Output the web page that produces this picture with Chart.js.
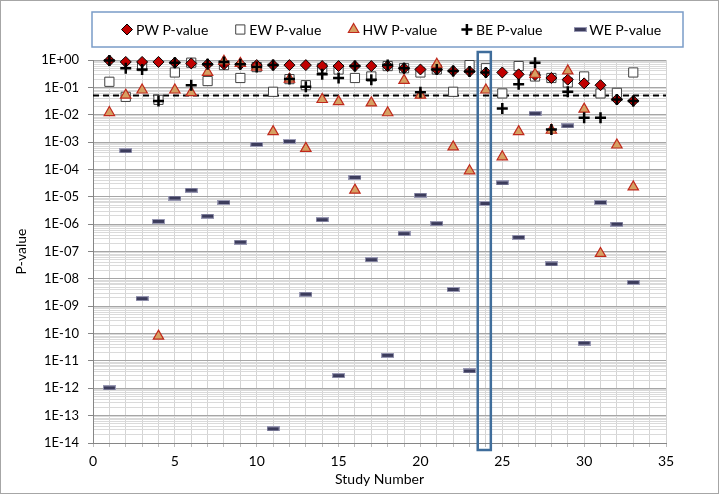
<!DOCTYPE html>
<html>
<head>
<meta charset="utf-8">
<script src="https://cdn.jsdelivr.net/npm/chart.js@4/dist/chart.umd.js"></script>
<style>
  body { margin: 0; background: #fff; }
  #chart { display: block; }
</style>
</head>
<body>
<canvas id="chart" width="720" height="496"></canvas>
<script>
// study numbers (x axis)
const studies = [1, 2, 3, 4, 5, 6, 7, 8, 9, 10, 11, 12, 13, 14, 15, 16, 17,
                 18, 19, 20, 21, 22, 23, 24, 25, 26, 27, 28, 29, 30, 31, 32, 33];

// p-values per study
const pwValues = [0.95, 0.85, 0.85, 0.85, 0.8, 0.75, 0.7, 0.7, 0.7, 0.65, 0.65, 0.65, 0.65,
                  0.6, 0.6, 0.6, 0.6, 0.6, 0.5, 0.45, 0.45, 0.4, 0.38, 0.35, 0.35, 0.3,
                  0.28, 0.22, 0.19, 0.14, 0.12, 0.036, 0.032];
const ewValues = [0.16, 0.045, 0.6, 0.035, 0.35, 0.8, 0.17, 0.65, 0.22, 0.55, 0.069, 0.2, 0.12,
                  0.5, 0.45, 0.22, 0.25, 0.6, 0.5, 0.35, 0.45, 0.069, 0.65, 0.5, 0.06, 0.6,
                  0.25, 0.22, 0.15, 0.25, 0.06, 0.063, 0.35];
const hwValues = [0.012, 0.052, 0.08, 8.1e-11, 0.08, 0.064, 0.35, 0.9, 0.75, 0.55, 0.0024, 0.2,
                  5.9e-4, 0.036, 0.03, 1.75e-5, 0.027, 0.0118, 0.18, 0.052, 0.7, 6.7e-4,
                  8.9e-5, 0.08, 2.9e-4, 0.0024, 0.3, 0.0027, 0.4, 0.016, 8.5e-8, 7.8e-4, 2.3e-5];
const beValues = [0.95, 0.5, 0.45, 0.032, 0.8, 0.12, 0.7, 0.85, 0.7, 0.55, 0.65, 0.2, 0.105,
                  0.3, 0.22, 0.6, 0.19, 0.65, 0.5, 0.066, 0.45, 0.4, 0.38, 0.35, 0.017, 0.13,
                  0.8, 0.0029, 0.069, 0.0078, 0.0078, 0.036, 0.032];
const weValues = [1.04e-12, 4.8e-4, 1.9e-9, 1.26e-6, 9e-6, 1.75e-5, 1.96e-6, 6.2e-6, 2.2e-7,
                  8.2e-4, 3.3e-14, 1.05e-3, 2.75e-9, 1.45e-6, 2.9e-12, 5.1e-5, 5e-8, 1.6e-11,
                  4.5e-7, 1.15e-5, 1.05e-6, 4.1e-9, 4.3e-12, 5.7e-6, 3.2e-5, 3.3e-7, 0.011,
                  3.5e-8, 3.9e-3, 4.5e-11, 6.2e-6, 1e-6, 7.4e-9];

// dashed significance line and the boxed study
const threshold = 0.05;
const highlightStudy = 24;

// axis ticks
const yExponents = [-14, -13, -12, -11, -10, -9, -8, -7, -6, -5, -4, -3, -2, -1, 0];
const xTickLabels = [0, 5, 10, 15, 20, 25, 30, 35];

const FONT = "Lato, 'Open Sans', sans-serif";

// minor log lines 1..9 per decade
const yTicks = [];
yExponents.forEach(e => {
    for (let m = 1; m <= 9; m++) {
        if (e === 0 && m > 1) break;
        yTicks.push(m * Math.pow(10, e));
    }
});
function isDecade(v) {
    const l = Math.log10(v);
    return Math.abs(l - Math.round(l)) < 1e-9;
}
function decadeLabel(v) {
    const e = Math.round(Math.log10(v));
    return '1E' + (e < 0 ? '-' : '+') + String(Math.abs(e)).padStart(2, '0');
}

function pts(values) {
    return studies.map((s, i) => ({x: s, y: values[i]}));
}

// WE marker: a short dark bar
function makeDash() {
    const c = document.createElement('canvas');
    c.width = 13; c.height = 5;
    const g = c.getContext('2d');
    g.fillStyle = '#9a9ab4';
    g.fillRect(0, 0, 13, 5);
    g.fillStyle = '#3c3c5c';
    g.fillRect(1, 1, 11, 3);
    return c;
}
const dashMarker = makeDash();

const datasets = [{
    label: 'PW P-value',
    data: pts(pwValues),
    pointStyle: 'rectRot',
    pointRadius: 5.5,
    backgroundColor: '#c00000',
    borderColor: '#000000',
    borderWidth: 1,
    order: 4,
    clip: false
}, {
    label: 'EW P-value',
    data: pts(ewValues),
    pointStyle: 'rect',
    pointRadius: 6.5,
    backgroundColor: '#ffffff',
    borderColor: '#404040',
    borderWidth: 1,
    order: 5,
    clip: false
}, {
    label: 'HW P-value',
    data: pts(hwValues),
    pointStyle: 'triangle',
    pointRadius: 6,
    backgroundColor: '#d6a062',
    borderColor: '#c0281c',
    borderWidth: 1.2,
    order: 3,
    clip: false
}, {
    label: 'BE P-value',
    data: pts(beValues),
    pointStyle: 'cross',
    pointRadius: 5.5,
    backgroundColor: '#000000',
    borderColor: '#000000',
    borderWidth: 2.5,
    order: 2,
    clip: false
}, {
    label: 'WE P-value',
    data: pts(weValues),
    pointStyle: dashMarker,
    pointRadius: 6,
    backgroundColor: '#3c3c5c',
    borderColor: '#9a9ab4',
    borderWidth: 1,
    order: 1,
    clip: false
}, {
    label: 'threshold',
    type: 'line',
    data: [{x: 0, y: threshold}, {x: 35, y: threshold}],
    borderColor: '#000000',
    borderWidth: 2,
    borderDash: [6, 4],
    pointRadius: 0,
    fill: false,
    order: 6,
    noLegend: true
}];

// white background, outer frame, hand-laid legend and the highlight box
const framePlugin = {
    id: 'frame',
    beforeDraw(chart) {
        const ctx = chart.ctx;
        ctx.save();
        ctx.fillStyle = '#ffffff';
        ctx.fillRect(0, 0, chart.width, chart.height);
        ctx.restore();
    },
    afterDatasetsDraw(chart) {
        const ctx = chart.ctx;
        const xs = chart.scales.x;
        const area = chart.chartArea;
        const x1 = xs.getPixelForValue(highlightStudy - 0.5);
        const x2 = xs.getPixelForValue(highlightStudy + 0.3);
        ctx.save();
        ctx.strokeStyle = '#3f6d9b';
        ctx.lineWidth = 2.5;
        ctx.strokeRect(x1, area.top - 8, x2 - x1, area.bottom - area.top + 15);
        ctx.restore();
    },
    afterDraw(chart) {
        const ctx = chart.ctx;
        ctx.save();
        // outer chart border
        ctx.strokeStyle = '#a6a6a6';
        ctx.lineWidth = 1;
        ctx.strokeRect(0.5, 0.5, chart.width - 2, chart.height - 3);

        // legend box
        ctx.strokeStyle = '#7a9cc8';
        ctx.lineWidth = 1.5;
        ctx.strokeRect(92, 12, 591, 35);

        ctx.font = '14px ' + FONT;
        ctx.textBaseline = 'middle';
        ctx.fillStyle = '#000000';
        const items = chart.data.datasets.filter(d => !d.noLegend);
        items.forEach((d, i) => {
            const mx = 127 + i * 113.3;
            const my = 29.5;
            ctx.save();
            ctx.fillStyle = d.backgroundColor;
            ctx.strokeStyle = d.borderColor;
            ctx.lineWidth = d.borderWidth;
            Chart.helpers.drawPoint(ctx, {
                pointStyle: d.pointStyle,
                radius: d.pointRadius,
                rotation: 0,
                borderWidth: d.borderWidth
            }, mx, my);
            ctx.restore();
            ctx.fillStyle = '#000000';
            ctx.fillText(d.label, mx + 9, my + 1);
        });
        ctx.restore();
    }
};

new Chart(document.getElementById('chart'), {
    type: 'scatter',
    data: {datasets: datasets},
    options: {
        responsive: false,
        animation: false,
        layout: {padding: {top: 60, right: 54, bottom: 6, left: 0}},
        plugins: {
            legend: {display: false},
            tooltip: {enabled: false}
        },
        scales: {
            x: {
                type: 'linear',
                min: 0,
                max: 35,
                afterFit: s => { s.height = 47; },
                ticks: {
                    stepSize: 1,
                    autoSkip: false,
                    maxRotation: 0,
                    padding: 6,
                    color: '#000000',
                    font: {family: FONT, size: 14},
                    callback: v => xTickLabels.includes(v) ? String(v) : ''
                },
                grid: {
                    color: '#d4d4d4',
                    tickLength: 4,
                    tickColor: '#bdbdbd'
                },
                border: {color: '#868686'},
                title: {
                    display: true,
                    text: 'Study Number',
                    color: '#000000',
                    font: {family: FONT, size: 14},
                    padding: {top: 0, bottom: 2}
                }
            },
            y: {
                type: 'logarithmic',
                min: 1e-14,
                max: 1,
                afterFit: s => { s.width = 93; },
                afterBuildTicks: axis => {
                    axis.ticks = yTicks.map(v => ({value: v, major: isDecade(v)}));
                },
                ticks: {
                    autoSkip: false,
                    padding: 9,
                    color: '#000000',
                    font: {family: FONT, size: 13},
                    callback: v => isDecade(v) ? decadeLabel(v) : ''
                },
                grid: {
                    color: ctx => (ctx.tick && isDecade(ctx.tick.value)) ? '#a6a6a6' : '#dadada',
                    tickLength: 5,
                    tickColor: ctx => (ctx.tick && isDecade(ctx.tick.value)) ? '#868686' : 'rgba(0,0,0,0)'
                },
                border: {color: '#868686'},
                title: {
                    display: true,
                    text: 'P-value',
                    color: '#000000',
                    font: {family: FONT, size: 14},
                    padding: {top: 13, bottom: 0}
                }
            }
        }
    },
    plugins: [framePlugin]
});
</script>
</body>
</html>
